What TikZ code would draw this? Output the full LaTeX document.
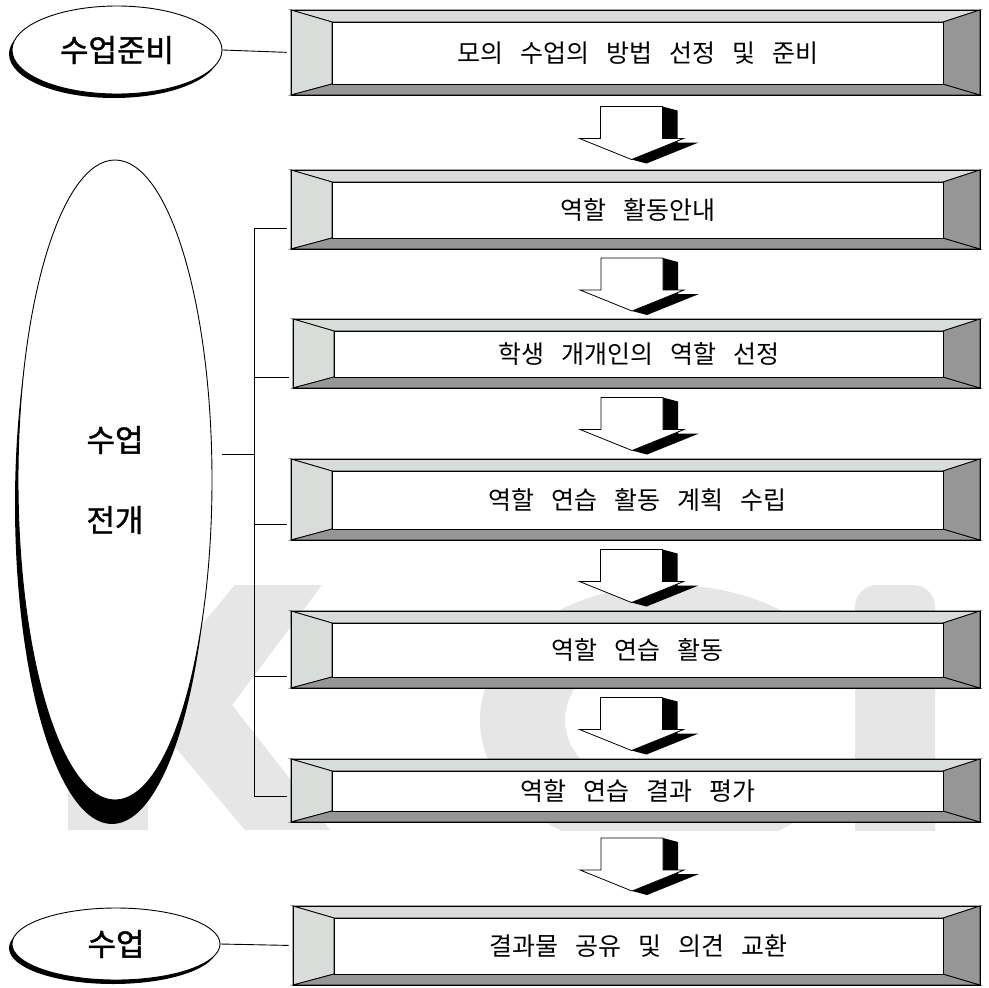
\documentclass[tikz,border=0pt]{standalone}
\usepackage{fontspec}
\setmainfont{Noto Sans CJK KR}
\newfontfamily\ovalfam{Noto Sans CJK KR}[FakeBold=1.2]
\usetikzlibrary{shapes.geometric,calc}
\definecolor{bevlight}{HTML}{D9DDDA}
\definecolor{bevdark}{HTML}{969696}
\definecolor{wmark}{HTML}{E6E6E6}
\newcommand\boxfont{\fontsize{25}{29}\selectfont\spaceskip=17pt\relax}
\newcommand\ovalfont{\ovalfam\fontsize{31}{36}\selectfont}
\tikzset{
  boxtext/.style={draw=black, fill=white, line width=0.9, font=\boxfont, inner sep=0},
  outerbox/.style={draw=black, line width=0.9, inner sep=0},
  bevelface/.style={draw=black, line width=0.8},
  oval/.style={ellipse, draw=black, fill=white, line width=0.9, inner sep=0, font=\ovalfont},
  ovalshadow/.style={ellipse, fill=black, inner sep=0},
  link/.style={draw=black, line width=0.9},
  blockarrow/.pic={
    \fill[black] (27,-27) -- (42,-23) -- (42,9) -- (63,9) -- (11,30) -- (-4,26) -- (48,5) -- (27,5) -- cycle;
    \draw[fill=white, line width=0.8] (-35,-27) -- (27,-27) -- (27,5) -- (48,5) -- (-4,26) -- (-56,5) -- (-35,5) -- cycle;
  }
}
% #1 name, #2 x1, #3 y1, #4 x2, #5 y2, #6 text
\newcommand\bevbox[6]{%
  \path[bevelface, fill=bevlight] (#2,#3) -- (#4,#3) -- (#4-37,#3+12) -- (#2+41,#3+12) -- cycle;
  \path[bevelface, fill=bevlight] (#2,#3) -- (#2+41,#3+12) -- (#2+41,#5-11) -- (#2,#5) -- cycle;
  \path[bevelface, fill=bevdark] (#2,#5) -- (#2+41,#5-11) -- (#4-37,#5-11) -- (#4,#5) -- cycle;
  \path[bevelface, fill=bevdark] (#4,#3) -- (#4-37,#3+12) -- (#4-37,#5-11) -- (#4,#5) -- cycle;
  \node[outerbox, minimum width={#4-#2}, minimum height={#5-#3}] (#1o) at ({(#2+#4)/2},{(#3+#5)/2}) {};
  \node[boxtext, minimum width={#4-#2-78}, minimum height={#5-#3-23}] (#1) at ({(#2+#4)/2+2},{(#3+#5)/2+0.5}) {#6};
}
\begin{document}
\begin{tikzpicture}[x=1pt,y=-1pt]
\useasboundingbox (0,0) rectangle (988,988);
\fill[white] (0,0) rectangle (988,988);
% watermark
\begin{scope}
  \clip (0,585) rectangle (988,830);
  \fill[wmark] (68,585) rectangle (148,830);
  \fill[wmark] (148,690) -- (235,585) -- (322,585) -- (232,705) -- (330,830) -- (245,830) -- (148,715) -- cycle;
  \fill[wmark, even odd rule] (670,720) ellipse [x radius=190, y radius=135] (670,720) ellipse [x radius=105, y radius=75];
  \fill[white] (670,720) -- (900,560) -- (900,880) -- cycle;
  \fill[wmark, rounded corners=22] (855,585) rectangle (935,860);
\end{scope}
% boxes
\bevbox{b1}{291}{10}{980}{95}{모의 수업의 방법 선정 및 준비}
\bevbox{b2}{291}{170}{980}{249}{역할 활동안내}
\bevbox{b3}{293}{319}{980}{388}{학생 개개인의 역할 선정}
\bevbox{b4}{291}{459}{980}{540}{역할 연습 활동 계획 수립}
\bevbox{b5}{291}{611}{980}{688}{역할 연습 활동}
\bevbox{b6}{291}{759}{980}{822}{역할 연습 결과 평가}
\bevbox{b7}{293}{906}{980}{985}{결과물 공유 및 의견 교환}
% arrows
\foreach \a/\b in {b1/b2,b2/b3,b3/b4,b4/b5,b5/b6,b6/b7}
  \pic at ($(\a o.south)!.5!(\b o.north)+(0,1)$) {blockarrow};
% ovals
\node[ovalshadow, minimum width=210, minimum height=88] at (114,54) {};
\node[oval, minimum width=210, minimum height=88] (prep) at (117,50) {수업준비};
\node[ovalshadow, minimum width=194, minimum height=640] at (112,504) {};
\node[oval, minimum width=194, minimum height=640, align=center, font=\ovalfam\fontsize{31}{80}\selectfont] (dev) at (115,480) {수업\\전개};
\node[ovalshadow, minimum width=208, minimum height=72] at (113,948) {};
\node[oval, minimum width=208, minimum height=72] (fin) at (116,944) {수업};
% links
\coordinate (bus) at (254,0);
\draw[link, shorten >=4pt] (prep.east) -- (b1o.west);
\draw[link, shorten >=4pt] (fin.east) -- (b7o.west);
\coordinate (j2) at ([yshift=-19pt]b2o.west);
\coordinate (j3) at ([yshift=-24pt]b3o.west);
\coordinate (j4) at ([yshift=-25pt]b4o.west);
\coordinate (j5) at ([yshift=-27pt]b5o.west);
\coordinate (j6) at ([yshift=-6pt]b6o.west);
\draw[link] (j2 -| bus) -- (j6 -| bus);
\foreach \j in {j2,j3,j4,j5,j6}
  \draw[link, shorten >=4pt] (\j -| bus) -- (\j);
\draw[link, shorten <=10pt] (dev.15) -- (dev.15 -| bus);
\end{tikzpicture}
\end{document}
